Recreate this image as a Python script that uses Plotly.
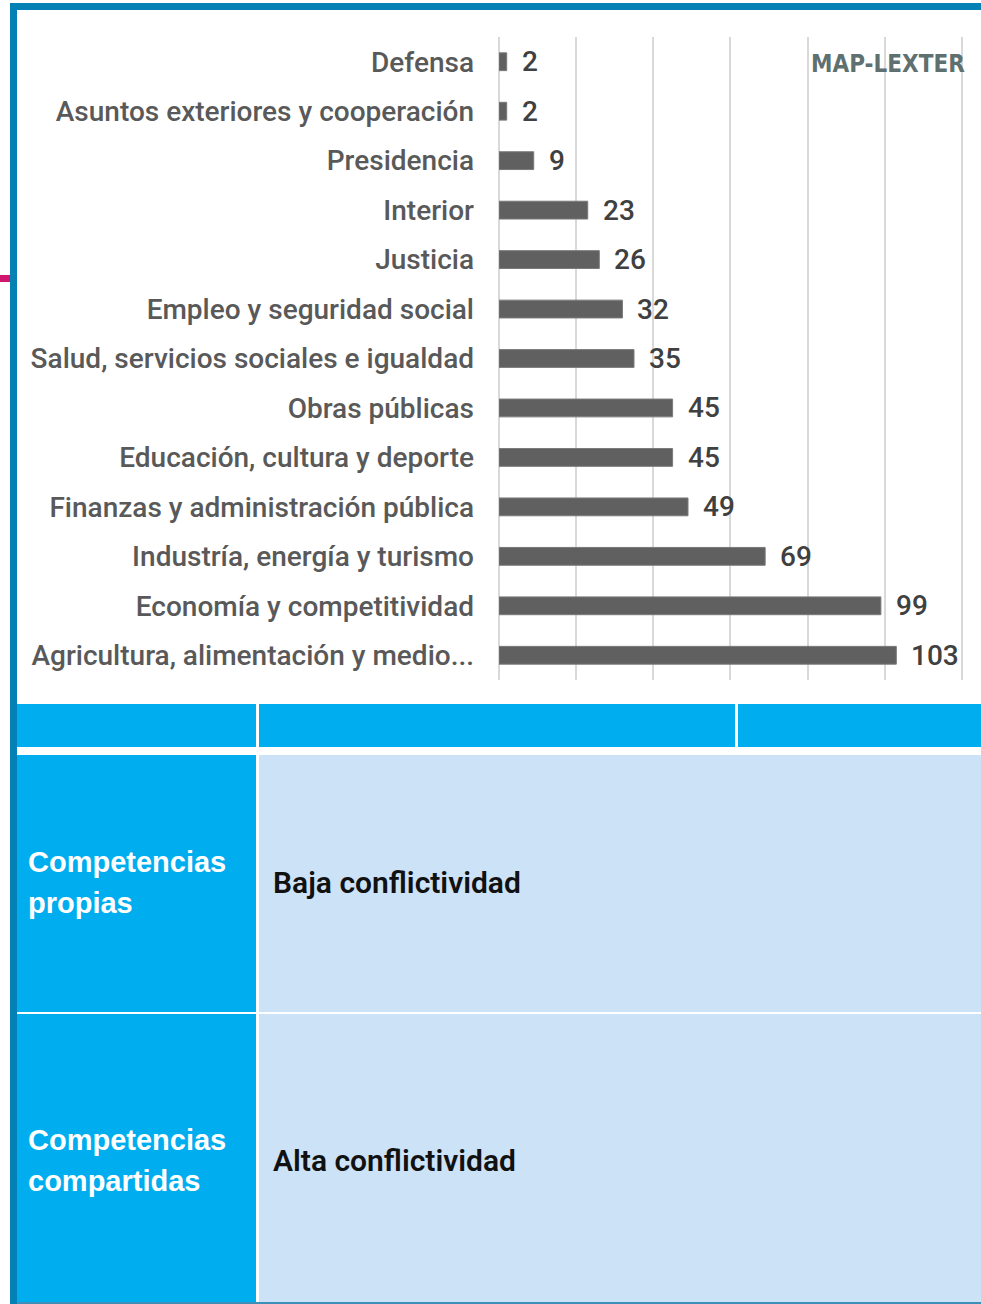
import plotly.graph_objects as go

W, H = 981, 1304

# chart data
categories = ["Defensa", "Asuntos exteriores y cooperación", "Presidencia", "Interior", "Justicia",
              "Empleo y seguridad social", "Salud, servicios sociales e igualdad", "Obras públicas",
              "Educación, cultura y deporte", "Finanzas y administración pública",
              "Industría, energía y turismo", "Economía y competitividad",
              "Agricultura, alimentación y medio..."]
values = [2, 2, 9, 23, 26, 32, 35, 45, 45, 49, 69, 99, 103]
x_ticks = [0, 20, 40, 60, 80, 100, 120]

# table text
row_heads = [["Competencias", "propias"], ["Competencias", "compartidas"]]
row_texts = ["Baja conflictividad", "Alta conflictividad"]

BLUE = "#00AEEF"
LIGHT = "#CCE2F7"
BORDER = "#0580B4"
LABEL_FONT = "Roboto, Liberation Sans, Arial, sans-serif"


def px(x):
    return x / W


def py(y):
    return 1 - y / H


def rect(x0, y0, x1, y1, color):
    return dict(type="rect", xref="paper", yref="paper", x0=px(x0), x1=px(x1),
                y0=py(y1), y1=py(y0), fillcolor=color, line=dict(width=0), layer="below")


fig = go.Figure()
fig.add_trace(go.Bar(x=values, y=categories, orientation="h", width=0.36,
                     marker=dict(color="#606060", line=dict(color="#7a7a7a", width=1)),
                     hoverinfo="skip"))

# value labels next to bars
for c, v in zip(categories, values):
    fig.add_annotation(x=v, y=c, xref="x", yref="y", text=str(v), showarrow=False,
                       xanchor="left", xshift=13,
                       font=dict(size=28, color="#404040", family=LABEL_FONT, weight=500))

shapes = [
    # frame
    rect(10, 3, 981, 10, BORDER),
    rect(10, 3, 17, 1304, BORDER),
    rect(0, 275, 10, 282, "#D0166E"),
    # header row
    rect(17, 704, 256, 747, BLUE),
    rect(259, 704, 735, 747, BLUE),
    rect(738, 704, 981, 747, BLUE),
    # body rows
    rect(17, 755, 256, 1012, BLUE),
    rect(259, 755, 981, 1012, LIGHT),
    rect(17, 1014, 256, 1302, BLUE),
    rect(259, 1014, 981, 1302, LIGHT),
    rect(17, 1302, 981, 1304, "#3D8FB8"),
]

row_mid = [882, 1160]
for lines, txt, ym in zip(row_heads, row_texts, row_mid):
    n = len(lines)
    for i, ln in enumerate(lines):
        yy = ym + (i - (n - 1) / 2) * 41
        fig.add_annotation(x=px(26), y=py(yy), xref="paper", yref="paper", text=ln,
                           showarrow=False, xanchor="left", yanchor="middle",
                           font=dict(size=29, color="white", family="Liberation Sans, Arial, sans-serif",
                                     weight="bold"))
    fig.add_annotation(x=px(271), y=py(ym), xref="paper", yref="paper", text=txt,
                       showarrow=False, xanchor="left", yanchor="middle",
                       font=dict(size=30, color="#111111", family=LABEL_FONT, weight=600))

# watermark
fig.add_annotation(x=px(967), y=py(64), xref="paper", yref="paper", text="MAP-LEXTER",
                   showarrow=False, xanchor="right", yanchor="middle",
                   font=dict(size=24, color="#5f7070", weight="bold",
                             family="DejaVu Sans Condensed, Liberation Sans, Arial, sans-serif"))

fig.update_layout(
    width=W, height=H,
    margin=dict(l=0, r=0, t=0, b=0),
    paper_bgcolor="white", plot_bgcolor="rgba(0,0,0,0)",
    showlegend=False,
    shapes=shapes,
    font=dict(family=LABEL_FONT),
    xaxis=dict(domain=[px(499), px(975)], range=[0, 123.4], tickvals=x_ticks,
               showticklabels=False, showgrid=True, gridcolor="#D9D9D9", gridwidth=1.5,
               zeroline=True, zerolinecolor="#D9D9D9", zerolinewidth=1.5, showline=False),
    yaxis=dict(domain=[py(680), py(37)], range=[12.5, -0.5], showgrid=False, zeroline=False,
               ticks="", ticklabelstandoff=24,
               tickfont=dict(size=28, color="#595959", weight=500)),
)

fig.write_html("out.html", config={"displayModeBar": False},
               post_script="document.body.style.margin='0';document.body.style.overflow='hidden';")
